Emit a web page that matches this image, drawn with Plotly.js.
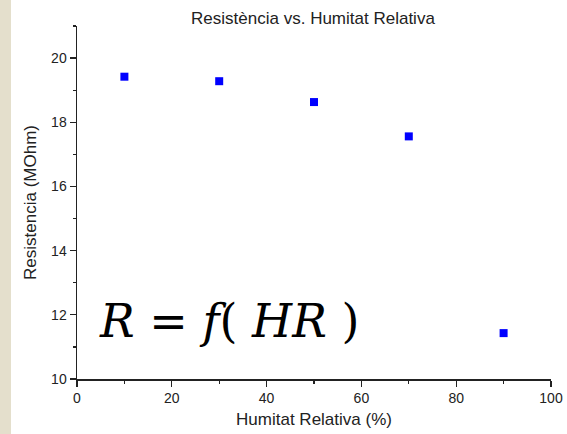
<!DOCTYPE html>
<html>
<head>
<meta charset="utf-8">
<script src="https://cdn.plot.ly/plotly-3.0.1.min.js"></script>
<style>
html,body{margin:0;padding:0;background:#fff;}
#strip{position:absolute;left:0;top:0;width:11px;height:434px;background:#e4dfcc;}
#chart{position:absolute;left:0;top:0;width:567px;height:434px;}
</style>
</head>
<body>
<div id="strip"></div>
<div id="chart"></div>
<script>
const humitat = [10, 30, 50, 70, 90];
const resistencia = [19.42, 19.28, 18.63, 17.56, 11.43];
const xTicks = [0, 20, 40, 60, 80, 100];
const yTicks = [10, 12, 14, 16, 18, 20];

const trace = {
  x: humitat, y: resistencia, type: 'scatter', mode: 'markers',
  marker: {symbol: 'square', size: 8, color: '#0000ff'},
  showlegend: false
};
const sans = 'Liberation Sans, Arial, sans-serif';
const axisFont = {family: sans, size: 14, color: '#222'};
const titleFont = {family: sans, size: 17, color: '#222'};
const layout = {
  width: 567, height: 434,
  margin: {l: 77, r: 16, t: 26, b: 55},
  paper_bgcolor: 'rgba(0,0,0,0)', plot_bgcolor: 'rgba(0,0,0,0)',
  title: {text: 'Resistència vs. Humitat Relativa', x: 0.552, xanchor: 'center', y: 0.958, yanchor: 'middle', font: titleFont},
  xaxis: {range: [0, 100], tickvals: xTicks, ticks: 'outside', ticklen: 6, tickwidth: 1.3, tickcolor: '#222',
    showline: true, linecolor: '#222', linewidth: 1.5, showgrid: false, zeroline: false,
    tickfont: axisFont,
    minor: {dtick: 10, tick0: 0, ticks: 'outside', ticklen: 3, tickcolor: '#222', showgrid: false},
    title: {text: 'Humitat Relativa (%)', standoff: 8, font: titleFont}},
  yaxis: {range: [10, 21], tickvals: yTicks, ticks: 'outside', ticklen: 6, tickwidth: 1.3, tickcolor: '#222',
    showline: true, linecolor: '#222', linewidth: 1.5, showgrid: false, zeroline: false,
    tickfont: axisFont,
    minor: {dtick: 1, tick0: 10, ticks: 'outside', ticklen: 3, tickcolor: '#222', showgrid: false},
    title: {text: 'Resistencia (MOhm)', standoff: 10, font: titleFont}},
  annotations: [{
    text: '<i>R</i>\u00a0=\u00a0<i>f</i>(\u00a0<i>HR</i>\u00a0)', xref: 'paper', yref: 'paper', x: 0.043, y: 0.083,
    xanchor: 'left', yanchor: 'bottom', showarrow: false,
    font: {family: 'DejaVu Serif, serif', size: 46, color: '#000'}
  }]
};
Plotly.newPlot('chart', [trace], layout, {displayModeBar: false, staticPlot: true});
</script>
</body>
</html>
